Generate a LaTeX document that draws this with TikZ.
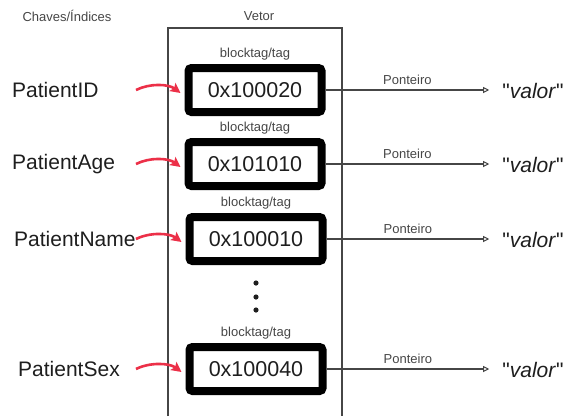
\documentclass[tikz,border=0pt]{standalone}
\usepackage{fontspec}
\setmainfont{Liberation Sans}
\newfontfamily\plainfont{Liberation Sans}
\usetikzlibrary{arrows.meta,positioning}
\definecolor{keyred}{RGB}{236,48,72}
\definecolor{ink}{RGB}{30,30,30}
\definecolor{soft}{RGB}{70,70,70}
\begin{document}
\begin{tikzpicture}
  [x=1pt,y=-1pt,
   every node/.style={text=ink},
   small/.style={font=\fontsize{13}{15}\selectfont,text=soft,inner sep=0pt},
   key/.style={font=\fontsize{21}{25}\selectfont,anchor=west,inner sep=0pt},
   cell/.style={draw=black,line width=8pt,rounded corners=3pt,minimum width=133pt,
     minimum height=44pt,inner sep=0pt,font=\fontsize{21.5}{25}\selectfont},
   val/.style={font=\plainfont\fontsize{21}{25}\selectfont,inner xsep=13pt,inner ysep=0pt},
   hook/.style={keyred,line width=2.6pt,-{Stealth[length=10pt,width=10pt,inset=2pt]}},
   ptr/.style={soft,line width=1.1pt,-{Triangle[open,length=6pt,width=6pt,line width=1pt]}}]
  \useasboundingbox (0,0) rectangle (566,416);

  \node[small] (chaves) at (67,16) {Chaves/Índices};
  \node[small] (vetor) at (259,16) {Vetor};
  % the vector, open at the bottom
  \draw[soft,line width=1.5pt] (168,416) -- (168,28) -- (342,28) -- (342,416);

  \node[key] (k1) at (12,90)  {PatientID};
  \node[key] (k2) at (12,164) {PatientAge};
  \node[key] (k3) at (14,239) {PatientName};
  \node[key] (k4) at (18,369) {PatientSex};

  \node[cell] (c1) at (255,90)  {0x100020};
  \node[cell] (c2) at (255,164) {0x101010};
  \node[cell] (c3) at (256,239) {0x100010};
  \node[cell] (c4) at (256,369) {0x100040};

  \node[small,above=4pt of c1] (t1) {blocktag/tag};
  \node[small,above=4pt of c2] (t2) {blocktag/tag};
  \node[small,above=4pt of c3] (t3) {blocktag/tag};
  \node[small,above=4pt of c4] (t4) {blocktag/tag};

  \node[val] (v1) at (533,91)  {"\textit{valor}"};
  \node[val] (v2) at (533,165) {"\textit{valor}"};
  \node[val] (v3) at (533,240) {"\textit{valor}"};
  \node[val] (v4) at (533,370) {"\textit{valor}"};

  \foreach \y in {283,297,310}
    \fill[ink] (256,\y) circle (2.6);

  \coordinate (tail) at (136,0);
  \foreach \i in {1,2,3,4}
    \draw[hook] (k\i.east -| tail) .. controls +(14,-7) and +(-12,-9) .. ([xshift=-4pt,yshift=-3pt]c\i.west);

  \foreach \i in {1,2,3,4}
    \draw[ptr] (c\i.east) -- node[small,above=5pt] {Ponteiro} (c\i.east -| v\i.west);
\end{tikzpicture}
\end{document}
